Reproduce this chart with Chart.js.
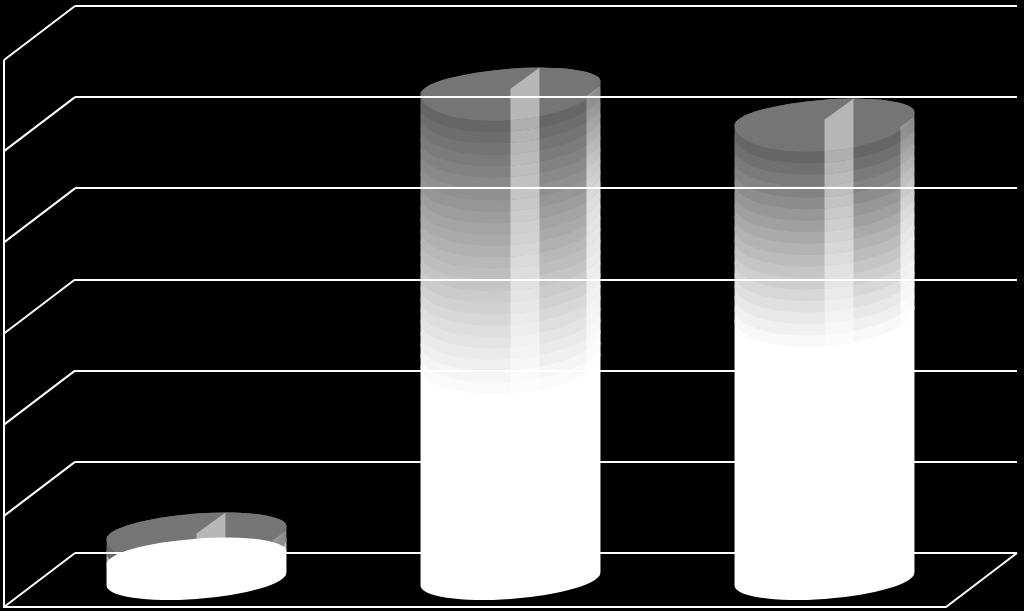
<!DOCTYPE html>
<html>
<head>
<meta charset="utf-8">
<title>Chart</title>
<style>
  html, body { margin: 0; padding: 0; background: #000; }
  canvas { display: block; }
</style>
<script src="https://cdn.jsdelivr.net/npm/chart.js@4"></script>
</head>
<body>
<canvas id="myChart" width="1024" height="611"></canvas>
<script>
// Data
var categories = ['1', '2', '3'];
var seriesValues = [0.52, 5.40, 5.06];
var axisMin = 0;
var axisMax = 6;
var axisStep = 1;

// Share of each cylinder that stays solid white, from the base up
var whiteShare = [0.46, 0.444, 0.576];
// the short cylinder has its white part painted over the top face
var whiteOnTop = [true, false, false];

// 3D look
var depthX = 71;
var depthY = 54;
var tilt = 6.5;
var upperRadius = 19;
var lowerRadius = 32.4;
var baseRadius = 20;
var bandStep = 11.5;

// ellipse at the height cy, skewed so its right side sits higher;
// its upper and lower halves have their own radius
function ellipsePath(ctx, cx, cy, a, upper, lower) {
    ctx.save();
    ctx.transform(1, -tilt / a, 0, 1, cx, cy);
    ctx.moveTo(-a, 0);
    ctx.ellipse(0, 0, a, upper, 0, Math.PI, Math.PI * 2);
    ctx.ellipse(0, 0, a, lower, 0, 0, Math.PI);
    ctx.closePath();
    ctx.restore();
}

// one slice of the cylinder between the heights yLow and yHigh
function slicePath(ctx, cx, a, yLow, yHigh, lowRadius) {
    ctx.beginPath();
    ellipsePath(ctx, cx, yLow, a, upperRadius, lowRadius);
    ellipsePath(ctx, cx, yHigh, a, upperRadius, lowerRadius);
    ctx.moveTo(cx - a, yLow + tilt);
    ctx.lineTo(cx - a, yHigh + tilt);
    ctx.lineTo(cx + a, yHigh - tilt);
    ctx.lineTo(cx + a, yLow - tilt);
    ctx.closePath();
}

// the two light strips running down the cylinder
function paintStrips(ctx, cx, a, yTop, yBase) {
    var left = a * 0.322;
    ctx.fillStyle = 'rgba(255,255,255,0.48)';
    ctx.beginPath();
    ctx.moveTo(cx, yTop + 1);
    ctx.lineTo(cx + left, yTop - 20);
    ctx.lineTo(cx + left, yBase + 40);
    ctx.lineTo(cx, yBase + 40);
    ctx.closePath();
    ctx.fill();

    var fade = ctx.createLinearGradient(0, yTop - 2, 0, yTop + 116);
    fade.addColorStop(0, 'rgba(255,255,255,0.22)');
    fade.addColorStop(1, 'rgba(255,255,255,0.65)');
    ctx.fillStyle = fade;
    ctx.beginPath();
    ctx.moveTo(cx + a - 14, yTop + 8);
    ctx.lineTo(cx + a, yTop - 2);
    ctx.lineTo(cx + a, yBase + 40);
    ctx.lineTo(cx + a - 14, yBase + 40);
    ctx.closePath();
    ctx.fill();
}

var wallsAndCylinders = {
    id: 'wallsAndCylinders',
    beforeDatasetsDraw: function (chart) {
        var ctx = chart.ctx;
        var area = chart.chartArea;
        var yScale = chart.scales.y;
        ctx.save();
        ctx.strokeStyle = '#fff';
        ctx.lineWidth = 2;
        ctx.lineJoin = 'miter';
        ctx.beginPath();
        yScale.ticks.forEach(function (tick) {
            var y = yScale.getPixelForValue(tick.value);
            ctx.moveTo(area.left, y);
            ctx.lineTo(area.left - depthX, y + depthY);
        });
        ctx.moveTo(area.left - depthX, area.top + depthY);
        ctx.lineTo(area.left - depthX, area.bottom + depthY);
        ctx.lineTo(area.right - depthX, area.bottom + depthY);
        ctx.lineTo(area.right, area.bottom);
        ctx.stroke();
        ctx.restore();
    },
    afterDatasetsDraw: function (chart) {
        var ctx = chart.ctx;
        chart.getDatasetMeta(0).data.forEach(function (bar, i) {
            var cx = bar.x - depthX / 2;
            var a = bar.width / 2;
            var yTop = bar.y + depthY / 2;
            var yBase = bar.base + depthY / 2;
            var yWhite = yBase - (yBase - yTop) * whiteShare[i];

            function paintWhite() {
                slicePath(ctx, cx, a, yBase, yWhite, baseRadius);
                ctx.fillStyle = '#fff';
                ctx.fill();
            }

            ctx.save();
            if (!whiteOnTop[i]) {
                paintWhite();
            }

            // grey bands, from the white level up to the top
            var count = Math.max(2, Math.round((yWhite - yTop) / bandStep));
            for (var n = 0; n < count; n++) {
                var yLow = yWhite - (yWhite - yTop) * n / count;
                var yHigh = yWhite - (yWhite - yTop) * (n + 1) / count;
                var grey = Math.round(255 - 153 * Math.pow((n + 1) / count, 1.1));
                ctx.save();
                slicePath(ctx, cx, a, yLow, yHigh, lowerRadius);
                ctx.fillStyle = 'rgb(' + grey + ',' + grey + ',' + grey + ')';
                ctx.fill();
                ctx.clip();
                paintStrips(ctx, cx, a, yTop, yBase);
                ctx.restore();
            }

            // top face
            ctx.save();
            ctx.beginPath();
            ellipsePath(ctx, cx, yTop, a, upperRadius, lowerRadius);
            ctx.fillStyle = '#757575';
            ctx.fill();
            ctx.clip();
            paintStrips(ctx, cx, a, yTop, yBase);
            ctx.restore();

            if (whiteOnTop[i]) {
                paintWhite();
            }
            ctx.restore();
        });
    }
};

var ctx = document.getElementById('myChart').getContext('2d');
var myChart = new Chart(ctx, {
    type: 'bar',
    data: {
        labels: categories,
        datasets: [{
            data: seriesValues,
            backgroundColor: 'rgba(0,0,0,0)',
            borderWidth: 0,
            barPercentage: 0.573,
            categoryPercentage: 1
        }]
    },
    options: {
        responsive: false,
        animation: false,
        layout: {
            padding: { left: 75, right: 7, top: 6, bottom: 50 }
        },
        plugins: {
            legend: { display: false },
            tooltip: { enabled: false }
        },
        scales: {
            x: {
                grid: { display: false },
                border: { display: false },
                ticks: { display: false }
            },
            y: {
                min: axisMin,
                max: axisMax,
                grid: { color: '#fff', lineWidth: 2, drawTicks: false, z: 1 },
                border: { display: false },
                ticks: { display: false, stepSize: axisStep }
            }
        }
    },
    plugins: [wallsAndCylinders]
});
</script>
</body>
</html>
